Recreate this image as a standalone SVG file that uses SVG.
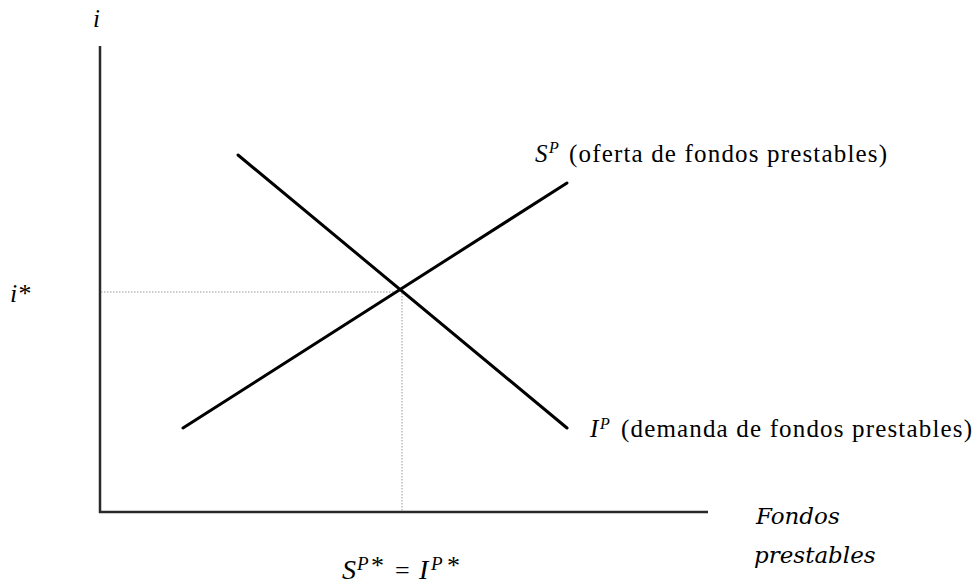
<svg xmlns="http://www.w3.org/2000/svg" width="978" height="584" viewBox="0 0 978 584">
<style>
.ax{stroke:#2a2a2a;stroke-width:2.5;fill:none}
.cv{stroke:#000;stroke-width:3;fill:none;stroke-linecap:round}
.dt{stroke:#999;stroke-width:1;stroke-dasharray:1.5 1.5;fill:none}
.t{font-family:"Liberation Serif",serif;font-size:25px;fill:#000}
.it{font-style:italic}
.sup{font-size:16px;font-style:italic}
.cb{font-family:"DejaVu Serif",serif;font-style:italic;font-size:23px;fill:#000}
</style>
<rect width="978" height="584" fill="#fff"/>
<g id="connectors">
<line class="ax" x1="100" y1="46" x2="100" y2="513"/>
<line class="ax" x1="99" y1="512" x2="708" y2="512"/>
<line class="dt" x1="101" y1="292" x2="398" y2="292"/>
<line class="dt" x1="402" y1="293" x2="402" y2="511"/>
<line class="cv" x1="183" y1="428" x2="567" y2="183"/>
<line class="cv" x1="238" y1="155" x2="567" y2="428"/>
</g>
<g id="label-i"><text class="t it" x="93" y="27">i</text></g>
<g id="label-istar"><text class="t it" x="10" y="302" style="font-size:26px">i*</text></g>
<g id="label-supply"><text class="t it" x="535" y="162">S</text><text class="t sup" x="549" y="153">P</text><text class="t" x="569" y="162" textLength="318" lengthAdjust="spacing">(oferta de fondos prestables)</text></g>
<g id="label-demand"><text class="t it" x="590" y="437">I</text><text class="t sup" x="600" y="429">P</text><text class="t" x="621" y="437" textLength="351" lengthAdjust="spacing">(demanda de fondos prestables)</text></g>
<g id="label-eq"><text class="t it" x="342" y="579" style="font-size:28px">S</text><text class="t it" x="357" y="570" style="font-size:19px">P</text><text class="t" x="371" y="574" style="font-size:26px">*</text><text class="t" x="395" y="579" style="font-size:26px">=</text><text class="t it" x="419" y="579" style="font-size:28px">I</text><text class="t it" x="431" y="570" style="font-size:19px">P</text><text class="t" x="447" y="574" style="font-size:26px">*</text></g>
<g id="label-x"><text class="cb" x="756" y="524">Fondos</text><text class="cb" x="754" y="563">prestables</text></g>
</svg>
